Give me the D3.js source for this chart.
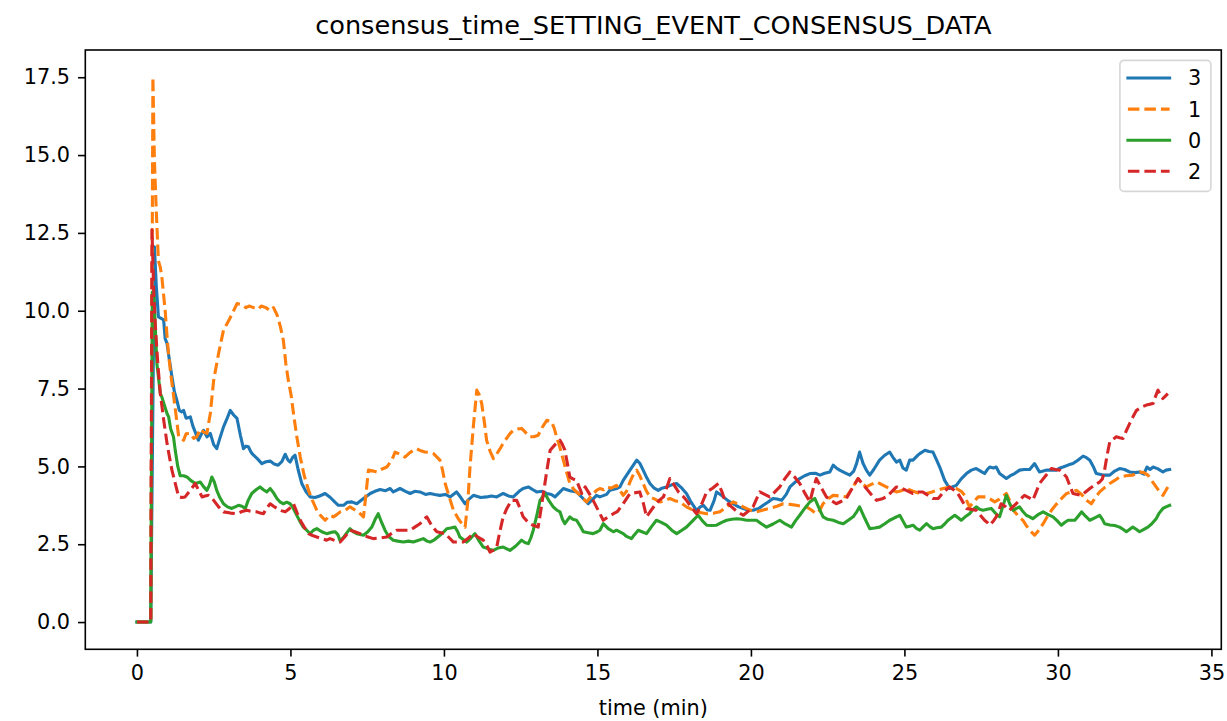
<!DOCTYPE html>
<html>
<head>
<meta charset="utf-8">
<script src="https://cdn.jsdelivr.net/npm/d3@7"></script>
<style>
  html, body { margin: 0; padding: 0; background: #fff; }
  text { font-family: "DejaVu Sans", sans-serif; fill: #000; }
</style>
</head>
<body>
<svg id="chart" width="1227" height="721"></svg>
<script>
// ---------------- DATA ----------------
const chartTitle = "consensus_time_SETTING_EVENT_CONSENSUS_DATA";
const xLabel = "time (min)";
const xTicks = [0, 5, 10, 15, 20, 25, 30, 35];
const yTicks = [0, 2.5, 5, 7.5, 10, 12.5, 15, 17.5];
const seriesNames = ["3", "1", "0", "2"];
const seriesColors = ["#1f77b4", "#ff7f0e", "#2ca02c", "#d62728"];
const seriesDashed = [false, true, false, true];

// [time (min), consensus time]
const series3 = [[0,0],[0.45,0],[0.57,12.05],[0.63,10.8],[0.70,9.8],[0.8,9.75],[0.87,9.7],[0.92,9.1],[0.98,8.95],[1.06,8.4],[1.14,7.88],[1.22,7.4],[1.30,7.13],[1.38,6.8],[1.46,6.75],[1.52,6.8],[1.6,6.55],[1.74,6.59],[1.82,6.3],[1.9,6.1],[2.0,5.84],[2.08,6.0],[2.17,6.16],[2.28,5.95],[2.39,6.06],[2.5,5.7],[2.6,5.57],[2.7,5.9],[2.82,6.27],[2.92,6.5],[3.04,6.8],[3.15,6.65],[3.26,6.54],[3.37,6.0],[3.47,5.57],[3.55,5.65],[3.63,5.63],[3.72,5.45],[3.8,5.36],[3.92,5.25],[4.07,5.09],[4.2,5.15],[4.34,5.17],[4.47,5.08],[4.6,5.04],[4.72,5.15],[4.83,5.39],[4.92,5.2],[4.99,5.14],[5.08,5.3],[5.15,5.36],[5.25,4.9],[5.37,4.45],[5.5,4.2],[5.64,4.02],[5.8,4.0],[5.95,4.05],[6.13,4.13],[6.3,4.0],[6.45,3.85],[6.56,3.75],[6.73,3.75],[6.85,3.85],[7.0,3.86],[7.16,3.8],[7.38,3.97],[7.6,4.13],[7.75,4.2],[7.92,4.26],[8.1,4.22],[8.25,4.29],[8.35,4.18],[8.57,4.29],[8.75,4.2],[8.9,4.13],[9.05,4.2],[9.22,4.18],[9.4,4.1],[9.55,4.13],[9.7,4.1],[9.87,4.07],[10.05,4.1],[10.2,4.02],[10.41,4.18],[10.55,4.0],[10.69,3.8],[10.82,3.95],[10.96,4.07],[11.2,4.0],[11.39,4.02],[11.55,4.05],[11.72,4.02],[11.93,4.13],[12.1,4.05],[12.26,4.02],[12.45,4.2],[12.58,4.29],[12.75,4.34],[12.9,4.25],[13.02,4.18],[13.2,4.2],[13.35,4.13],[13.5,4.1],[13.62,4.02],[13.75,4.15],[13.89,4.29],[14.1,4.22],[14.32,4.18],[14.5,4.0],[14.7,3.8],[14.85,3.95],[14.97,4.07],[15.08,4.02],[15.3,4.1],[15.4,4.23],[15.63,4.29],[15.73,4.34],[15.84,4.55],[16.06,4.88],[16.28,5.2],[16.38,5.1],[16.49,4.88],[16.6,4.65],[16.71,4.45],[16.85,4.3],[16.98,4.23],[17.1,4.3],[17.25,4.34],[17.4,4.4],[17.58,4.45],[17.75,4.3],[17.9,4.13],[18.05,3.85],[18.23,3.59],[18.35,3.7],[18.45,3.75],[18.58,3.6],[18.67,3.59],[18.8,3.9],[18.88,4.18],[19.0,4.1],[19.1,4.02],[19.25,3.9],[19.42,3.8],[19.6,3.7],[19.75,3.65],[19.9,3.6],[20.07,3.59],[20.25,3.65],[20.4,3.75],[20.55,3.85],[20.72,3.97],[20.85,3.95],[21.0,3.91],[21.15,4.1],[21.27,4.34],[21.45,4.5],[21.59,4.61],[21.75,4.7],[21.92,4.77],[22.1,4.78],[22.25,4.72],[22.4,4.78],[22.57,4.82],[22.68,5.04],[22.78,4.95],[22.89,4.88],[23.05,4.8],[23.22,4.72],[23.35,4.85],[23.44,5.09],[23.54,5.46],[23.65,5.1],[23.76,4.88],[23.87,4.72],[24.0,4.9],[24.19,5.2],[24.35,5.35],[24.52,5.46],[24.62,5.3],[24.74,5.14],[24.85,5.2],[24.95,4.95],[25.06,4.88],[25.17,5.2],[25.28,5.2],[25.44,5.36],[25.5,5.41],[25.67,5.52],[25.8,5.48],[25.93,5.46],[26.05,5.2],[26.15,4.98],[26.31,4.55],[26.47,4.29],[26.58,4.35],[26.69,4.39],[26.85,4.6],[27.02,4.77],[27.18,4.88],[27.34,4.93],[27.48,4.85],[27.61,4.77],[27.7,4.9],[27.78,4.98],[27.9,4.95],[27.99,4.98],[28.1,4.77],[28.2,4.7],[28.32,4.61],[28.45,4.7],[28.59,4.77],[28.75,4.88],[28.9,4.9],[29.08,4.9],[29.24,5.09],[29.4,4.82],[29.52,4.85],[29.62,4.88],[29.8,4.88],[29.95,4.88],[30.06,4.95],[30.17,4.98],[30.35,5.05],[30.49,5.09],[30.65,5.2],[30.82,5.33],[30.93,5.28],[31.04,5.2],[31.15,5.0],[31.25,4.77],[31.47,4.72],[31.69,4.72],[31.85,4.85],[32.01,4.93],[32.17,4.9],[32.34,4.82],[32.5,4.8],[32.66,4.82],[32.8,4.75],[32.9,4.98],[33.0,4.9],[33.1,4.98],[33.26,4.92],[33.42,4.82],[33.52,4.88],[33.64,4.9]];

const series1 = [[0,0],[0.45,0],[0.52,17.5],[0.57,14.8],[0.63,13.2],[0.70,11.6],[0.76,11.4],[0.81,11.1],[0.92,10.0],[0.99,9.05],[1.03,8.6],[1.11,7.9],[1.19,7.3],[1.28,6.6],[1.36,5.95],[1.45,5.9],[1.52,5.84],[1.6,6.05],[1.74,6.06],[1.85,5.9],[1.95,5.95],[2.06,6.2],[2.17,6.1],[2.28,6.06],[2.39,6.7],[2.5,7.77],[2.66,8.63],[2.82,9.38],[3.0,9.7],[3.1,9.9],[3.26,10.23],[3.4,10.2],[3.55,10.1],[3.65,10.15],[3.8,10.1],[3.95,10.05],[4.05,10.15],[4.2,10.1],[4.34,10.0],[4.45,10.1],[4.57,9.85],[4.67,9.5],[4.77,9.05],[4.85,8.3],[4.93,7.77],[5.02,7.3],[5.1,6.7],[5.2,6.0],[5.32,5.3],[5.45,4.7],[5.59,4.23],[5.72,3.9],[5.86,3.59],[6.0,3.4],[6.13,3.27],[6.29,3.43],[6.4,3.38],[6.51,3.45],[6.62,3.54],[6.8,3.6],[6.94,3.7],[7.1,3.6],[7.27,3.48],[7.38,3.38],[7.46,4.1],[7.54,4.88],[7.7,4.85],[7.81,4.82],[7.95,4.9],[8.14,4.98],[8.3,5.2],[8.41,5.46],[8.55,5.4],[8.73,5.3],[8.9,5.45],[9.11,5.57],[9.25,5.5],[9.38,5.46],[9.5,5.45],[9.66,5.41],[9.87,5.2],[9.95,4.9],[10.04,4.45],[10.18,4.0],[10.31,3.59],[10.45,3.35],[10.58,3.16],[10.69,3.05],[10.78,3.9],[10.85,4.98],[10.96,6.3],[11.07,7.45],[11.15,7.3],[11.23,7.02],[11.32,6.4],[11.39,5.84],[11.5,5.5],[11.61,5.25],[11.72,5.4],[11.83,5.57],[11.93,5.75],[12.04,5.9],[12.15,6.05],[12.26,6.16],[12.4,6.2],[12.53,6.22],[12.65,6.1],[12.8,5.95],[12.93,5.95],[13.07,6.0],[13.2,6.25],[13.35,6.48],[13.51,6.43],[13.6,6.2],[13.67,5.95],[13.78,5.6],[13.89,5.2],[14.0,4.8],[14.1,4.45],[14.24,4.25],[14.38,4.13],[14.5,4.0],[14.65,3.86],[14.8,4.05],[14.97,4.23],[15.08,4.29],[15.2,4.25],[15.3,4.34],[15.45,4.3],[15.62,4.39],[15.73,4.23],[15.84,4.07],[15.95,4.2],[16.06,4.5],[16.2,4.8],[16.28,4.88],[16.38,4.7],[16.49,4.45],[16.6,4.2],[16.71,4.02],[16.87,3.95],[17.04,3.86],[17.2,3.9],[17.36,3.97],[17.52,3.9],[17.69,3.86],[17.9,3.7],[18.12,3.59],[18.35,3.52],[18.56,3.48],[18.8,3.5],[18.99,3.54],[19.2,3.7],[19.42,3.86],[19.6,3.78],[19.75,3.7],[19.95,3.6],[20.18,3.54],[20.4,3.6],[20.61,3.65],[20.85,3.72],[21.05,3.8],[21.27,3.78],[21.48,3.75],[21.65,3.72],[21.81,3.7],[21.97,3.6],[22.13,3.48],[22.25,3.6],[22.35,3.8],[22.5,3.95],[22.68,4.07],[22.9,4.05],[23.11,4.02],[23.3,4.3],[23.49,4.61],[23.62,4.45],[23.76,4.34],[23.92,4.42],[24.09,4.5],[24.25,4.42],[24.41,4.34],[24.58,4.25],[24.74,4.18],[24.9,4.22],[25.06,4.29],[25.28,4.2],[25.5,4.13],[25.72,4.13],[25.9,4.18],[26.04,4.23],[26.26,4.29],[26.47,4.34],[26.69,4.29],[26.85,4.2],[26.96,4.07],[27.05,3.85],[27.12,3.7],[27.25,3.85],[27.4,4.02],[27.67,4.02],[27.8,3.95],[27.94,3.86],[28.1,3.95],[28.32,4.13],[28.45,3.85],[28.59,3.54],[28.72,3.4],[28.86,3.27],[28.97,3.1],[29.08,2.95],[29.24,2.79],[29.38,2.95],[29.52,3.16],[29.65,3.38],[29.79,3.59],[29.92,3.75],[30.06,3.91],[30.17,4.02],[30.28,4.13],[30.45,4.18],[30.61,4.23],[30.77,4.1],[30.93,3.91],[31.09,3.8],[31.22,4.0],[31.36,4.18],[31.52,4.32],[31.69,4.45],[31.85,4.55],[32.01,4.66],[32.22,4.7],[32.44,4.72],[32.55,4.78],[32.66,4.82],[32.8,4.8],[32.93,4.72],[33.05,4.55],[33.2,4.34],[33.3,4.2],[33.42,4.07],[33.5,4.2],[33.58,4.34]];

const series0 = [[0,0],[0.45,0],[0.5,10.6],[0.55,10.55],[0.65,8.3],[0.76,7.35],[0.81,7.23],[0.9,6.95],[0.98,6.7],[1.03,6.6],[1.1,6.2],[1.19,5.95],[1.25,5.5],[1.33,5.0],[1.41,4.7],[1.52,4.7],[1.63,4.66],[1.75,4.55],[1.9,4.45],[2.06,4.5],[2.17,4.35],[2.28,4.23],[2.36,4.4],[2.44,4.66],[2.52,4.5],[2.6,4.23],[2.7,4.0],[2.82,3.8],[2.95,3.7],[3.09,3.65],[3.2,3.7],[3.31,3.75],[3.42,3.72],[3.53,3.65],[3.62,3.9],[3.74,4.13],[3.88,4.25],[4.01,4.34],[4.12,4.25],[4.23,4.18],[4.34,4.29],[4.45,4.15],[4.56,3.97],[4.67,3.85],[4.77,3.8],[4.88,3.85],[4.99,3.8],[5.07,3.7],[5.15,3.54],[5.3,3.25],[5.42,3.05],[5.53,2.95],[5.64,2.84],[5.75,2.95],[5.86,3.0],[6.02,2.9],[6.18,2.84],[6.32,2.88],[6.46,2.9],[6.55,2.8],[6.62,2.6],[6.75,2.75],[6.94,3.0],[7.05,2.9],[7.16,2.84],[7.38,2.79],[7.52,2.9],[7.65,3.05],[7.76,3.3],[7.86,3.48],[7.97,3.2],[8.08,2.95],[8.2,2.75],[8.35,2.63],[8.5,2.6],[8.68,2.57],[8.85,2.6],[9.0,2.57],[9.15,2.62],[9.33,2.68],[9.45,2.6],[9.55,2.57],[9.7,2.65],[9.87,2.79],[10.0,2.9],[10.09,3.0],[10.22,3.02],[10.36,3.05],[10.45,2.9],[10.52,2.73],[10.63,2.65],[10.74,2.57],[10.88,2.7],[11.01,2.84],[11.15,2.6],[11.28,2.41],[11.45,2.35],[11.61,2.3],[11.77,2.38],[11.93,2.41],[12.05,2.35],[12.15,2.3],[12.35,2.45],[12.53,2.63],[12.65,2.55],[12.75,2.52],[12.83,2.7],[12.91,2.95],[13.02,3.4],[13.13,3.91],[13.29,4.13],[13.42,3.9],[13.56,3.7],[13.67,3.6],[13.78,3.54],[13.86,3.3],[13.94,3.16],[14.1,3.38],[14.2,3.3],[14.32,3.27],[14.43,3.1],[14.54,2.9],[14.7,2.87],[14.86,2.84],[15.0,2.9],[15.08,2.95],[15.19,3.16],[15.35,3.0],[15.52,2.9],[15.62,2.95],[15.84,2.84],[15.95,2.75],[16.11,2.68],[16.2,2.8],[16.33,2.95],[16.45,2.9],[16.6,2.84],[16.75,3.05],[16.92,3.27],[17.08,3.2],[17.25,3.11],[17.42,2.95],[17.58,2.84],[17.75,2.95],[17.9,3.05],[18.1,3.25],[18.28,3.43],[18.42,3.25],[18.56,3.11],[18.72,3.1],[18.88,3.11],[19.05,3.2],[19.21,3.27],[19.38,3.3],[19.54,3.32],[19.7,3.3],[19.86,3.27],[20.02,3.27],[20.18,3.27],[20.35,3.15],[20.51,3.05],[20.72,3.15],[20.94,3.27],[21.12,3.15],[21.32,3.05],[21.45,3.25],[21.59,3.43],[21.75,3.65],[21.92,3.86],[22.08,3.97],[22.2,3.7],[22.35,3.38],[22.5,3.3],[22.68,3.27],[22.85,3.2],[23.01,3.16],[23.17,3.27],[23.33,3.38],[23.45,3.55],[23.54,3.7],[23.7,3.35],[23.87,3.0],[24.03,3.02],[24.19,3.05],[24.35,3.15],[24.52,3.27],[24.68,3.35],[24.85,3.43],[24.95,3.25],[25.06,3.05],[25.17,3.08],[25.28,3.11],[25.4,3.0],[25.5,2.95],[25.6,3.05],[25.72,3.16],[25.85,3.05],[25.93,3.0],[26.05,3.03],[26.2,3.05],[26.31,3.15],[26.42,3.27],[26.53,3.35],[26.64,3.43],[26.75,3.35],[26.85,3.27],[26.98,3.38],[27.12,3.48],[27.22,3.6],[27.34,3.7],[27.45,3.62],[27.56,3.59],[27.7,3.62],[27.83,3.65],[27.96,3.5],[28.1,3.38],[28.2,3.7],[28.32,4.07],[28.43,3.8],[28.54,3.59],[28.65,3.65],[28.75,3.7],[28.86,3.55],[28.97,3.43],[29.08,3.38],[29.18,3.32],[29.35,3.45],[29.52,3.54],[29.68,3.45],[29.84,3.38],[29.98,3.25],[30.11,3.11],[30.22,3.2],[30.33,3.27],[30.55,3.27],[30.66,3.4],[30.77,3.54],[30.9,3.4],[31.04,3.27],[31.2,3.35],[31.36,3.43],[31.45,3.3],[31.52,3.16],[31.69,3.12],[31.85,3.1],[32.01,3.05],[32.12,2.98],[32.23,2.9],[32.34,2.98],[32.44,3.05],[32.55,2.98],[32.66,2.9],[32.8,2.98],[32.93,3.05],[33.05,3.15],[33.2,3.32],[33.3,3.5],[33.42,3.65],[33.52,3.7],[33.64,3.75]];

const series2 = [[0,0],[0.45,0],[0.49,12.6],[0.55,10.5],[0.6,9.5],[0.68,8.3],[0.76,7.35],[0.87,6.5],[0.98,5.74],[1.06,5.3],[1.14,4.88],[1.25,4.45],[1.36,4.02],[1.47,4.0],[1.57,4.02],[1.75,4.25],[1.9,4.45],[2.0,4.25],[2.12,4.02],[2.22,4.05],[2.33,4.07],[2.42,4.0],[2.5,3.91],[2.66,3.7],[2.82,3.54],[3.05,3.5],[3.26,3.48],[3.42,3.55],[3.58,3.59],[3.75,3.55],[3.91,3.54],[4.02,3.5],[4.12,3.48],[4.22,3.65],[4.34,3.8],[4.45,3.72],[4.56,3.65],[4.7,3.58],[4.83,3.54],[4.97,3.65],[5.1,3.8],[5.22,3.5],[5.32,3.27],[5.45,3.05],[5.59,2.84],[5.72,2.78],[5.86,2.73],[6.02,2.68],[6.18,2.63],[6.29,2.68],[6.45,2.62],[6.62,2.57],[6.78,2.75],[6.94,2.95],[7.1,2.9],[7.27,2.84],[7.48,2.75],[7.7,2.68],[7.92,2.7],[8.14,2.73],[8.3,2.85],[8.46,2.95],[8.68,2.95],[8.9,2.95],[9.05,3.05],[9.22,3.16],[9.32,3.28],[9.44,3.38],[9.6,3.1],[9.77,2.9],[9.9,2.87],[10.04,2.84],[10.18,2.7],[10.31,2.57],[10.47,2.57],[10.63,2.57],[10.8,2.7],[10.96,2.84],[11.12,2.72],[11.28,2.63],[11.4,2.45],[11.5,2.25],[11.6,2.3],[11.72,2.41],[11.82,2.9],[11.93,3.38],[12.05,3.65],[12.2,3.91],[12.37,3.91],[12.48,3.65],[12.58,3.38],[12.7,3.25],[12.8,3.16],[12.93,3.1],[13.07,3.05],[13.15,3.55],[13.24,4.13],[13.35,4.85],[13.46,5.52],[13.62,5.7],[13.78,5.84],[13.86,5.7],[13.94,5.52],[14.02,5.1],[14.1,4.66],[14.2,4.6],[14.32,4.55],[14.4,4.35],[14.49,4.13],[14.6,4.34],[14.72,4.15],[14.86,3.91],[15.02,3.6],[15.19,3.27],[15.35,3.38],[15.52,3.48],[15.65,3.55],[15.84,3.8],[16.06,4.13],[16.2,4.15],[16.38,4.18],[16.5,3.8],[16.6,3.38],[16.72,3.55],[16.87,3.75],[17.0,3.9],[17.15,4.02],[17.25,4.3],[17.36,4.61],[17.5,4.4],[17.64,4.18],[17.78,4.05],[17.9,3.91],[18.05,3.7],[18.23,3.48],[18.4,3.8],[18.56,4.18],[18.75,4.3],[18.94,4.45],[19.05,4.2],[19.15,3.91],[19.26,3.8],[19.37,3.7],[19.55,3.55],[19.75,3.43],[19.9,3.55],[20.07,3.7],[20.18,3.95],[20.29,4.18],[20.45,4.1],[20.61,4.02],[20.78,4.18],[20.94,4.34],[21.1,4.6],[21.27,4.82],[21.43,4.65],[21.59,4.45],[21.75,4.15],[21.92,3.86],[22.02,4.25],[22.13,4.61],[22.3,4.3],[22.46,4.02],[22.62,3.9],[22.78,3.8],[22.95,3.88],[23.11,3.97],[23.3,4.3],[23.49,4.61],[23.62,4.45],[23.76,4.29],[23.92,4.1],[24.09,3.91],[24.25,3.95],[24.41,4.02],[24.58,4.18],[24.74,4.34],[24.9,4.3],[25.06,4.23],[25.28,4.13],[25.44,4.18],[25.6,4.18],[25.75,4.08],[25.93,3.97],[26.1,3.97],[26.3,4.2],[26.47,4.34],[26.6,4.25],[26.74,4.13],[26.88,3.9],[27.02,3.65],[27.18,3.62],[27.34,3.59],[27.48,3.42],[27.61,3.27],[27.7,3.2],[27.78,3.11],[27.9,3.25],[27.99,3.38],[28.08,3.6],[28.15,3.8],[28.3,3.7],[28.42,3.59],[28.53,3.7],[28.64,3.8],[28.78,3.95],[28.91,4.07],[29.05,4.0],[29.18,3.91],[29.3,4.2],[29.4,4.45],[29.6,4.7],[29.79,4.93],[29.92,4.9],[30.06,4.88],[30.17,4.78],[30.28,4.66],[30.38,4.4],[30.49,4.13],[30.63,4.1],[30.77,4.07],[30.9,4.18],[31.04,4.29],[31.2,4.4],[31.36,4.5],[31.45,4.6],[31.52,4.88],[31.6,5.35],[31.69,5.79],[31.8,5.87],[31.9,5.95],[32.01,5.92],[32.12,5.9],[32.23,6.15],[32.34,6.38],[32.45,6.6],[32.56,6.8],[32.72,6.9],[32.88,6.97],[33.0,7.0],[33.1,7.02],[33.18,7.25],[33.26,7.45],[33.34,7.3],[33.42,7.18],[33.5,7.26],[33.58,7.34]];

const seriesData = [series3, series1, series0, series2];

// ---------------- LAYOUT ----------------
const W = 1227, H = 721;
const axL = 85.3, axR = 1221.3, axT = 50, axB = 649.3;
const fontPx = 20.8;
const lw = 3.1;

const svg = d3.select("#chart");
svg.append("rect").attr("width", W).attr("height", H).attr("fill", "#fff");

// data extents with matplotlib-like 5% margins
const allPts = seriesData.flat();
const xMin = d3.min(allPts, d => d[0]), xMax = d3.max(allPts, d => d[0]);
const yMin = d3.min(allPts, d => d[1]), yMax = d3.max(allPts, d => d[1]);
const xPad = (xMax - xMin) * 0.05, yPad = (yMax - yMin) * 0.05;

const x = d3.scaleLinear().domain([xMin - xPad, xMax + xPad]).range([axL, axR]);
const y = d3.scaleLinear().domain([yMin - yPad, yMax + yPad]).range([axB, axT]);

svg.append("defs").append("clipPath").attr("id", "clip")
  .append("rect").attr("x", axL).attr("y", axT).attr("width", axR - axL).attr("height", axB - axT);

// lines
const line = d3.line().x(d => x(d[0])).y(d => y(d[1]));
const plot = svg.append("g").attr("clip-path", "url(#clip)");
seriesData.forEach((data, i) => {
  plot.append("path")
    .datum(data)
    .attr("d", line)
    .attr("fill", "none")
    .attr("stroke", seriesColors[i])
    .attr("stroke-width", lw)
    .attr("stroke-linejoin", "round")
    .attr("stroke-linecap", seriesDashed[i] ? "butt" : "square")
    .attr("stroke-dasharray", seriesDashed[i] ? "11.5,5" : null);
});

// axes
const tickLen = 7.3;
const xAxis = d3.axisBottom(x).tickValues(xTicks).tickSize(tickLen).tickPadding(9).tickFormat(d3.format("d"));
const gx = svg.append("g").attr("transform", `translate(0,${axB})`).call(xAxis);
gx.select(".domain").remove();
gx.selectAll(".tick line").attr("stroke", "#000").attr("stroke-width", 1.6);
gx.selectAll(".tick text").attr("font-size", fontPx).attr("font-family", "DejaVu Sans").attr("fill", "#000");

const yAxis = d3.axisLeft(y).tickValues(yTicks).tickSize(tickLen).tickPadding(8).tickFormat(d3.format(".1f"));
const gy = svg.append("g").attr("transform", `translate(${axL},0)`).call(yAxis);
gy.select(".domain").remove();
gy.selectAll(".tick line").attr("stroke", "#000").attr("stroke-width", 1.6);
gy.selectAll(".tick text").attr("font-size", fontPx).attr("font-family", "DejaVu Sans").attr("fill", "#000");

// spines
svg.append("rect")
  .attr("x", axL).attr("y", axT).attr("width", axR - axL).attr("height", axB - axT)
  .attr("fill", "none").attr("stroke", "#000").attr("stroke-width", 1.6);

// title and label
svg.append("text").attr("x", (axL + axR) / 2).attr("y", 34)
  .attr("text-anchor", "middle").attr("font-size", 25.6).text(chartTitle);
svg.append("text").attr("x", (axL + axR) / 2).attr("y", 714.5)
  .attr("text-anchor", "middle").attr("font-size", fontPx).text(xLabel);

// legend
const lgW = 91, lgH = 131;
const lgX = axR - 10.4 - lgW, lgY = axT + 10.4;
const lg = svg.append("g").attr("transform", `translate(${lgX},${lgY})`);
lg.append("rect").attr("width", lgW).attr("height", lgH).attr("rx", 4).attr("ry", 4)
  .attr("fill", "#fff").attr("fill-opacity", 0.8)
  .attr("stroke", "#cccccc").attr("stroke-opacity", 0.8).attr("stroke-width", 1.6);
seriesNames.forEach((name, i) => {
  const cy = 17.6 + i * 31.1;
  lg.append("line").attr("x1", 8).attr("x2", 49.7).attr("y1", cy).attr("y2", cy)
    .attr("stroke", seriesColors[i]).attr("stroke-width", lw)
    .attr("stroke-linecap", seriesDashed[i] ? "butt" : "square")
    .attr("stroke-dasharray", seriesDashed[i] ? "11.5,5" : null);
  lg.append("text").attr("x", 68).attr("y", cy + 7.5).attr("font-size", fontPx).text(name);
});
</script>
</body>
</html>
